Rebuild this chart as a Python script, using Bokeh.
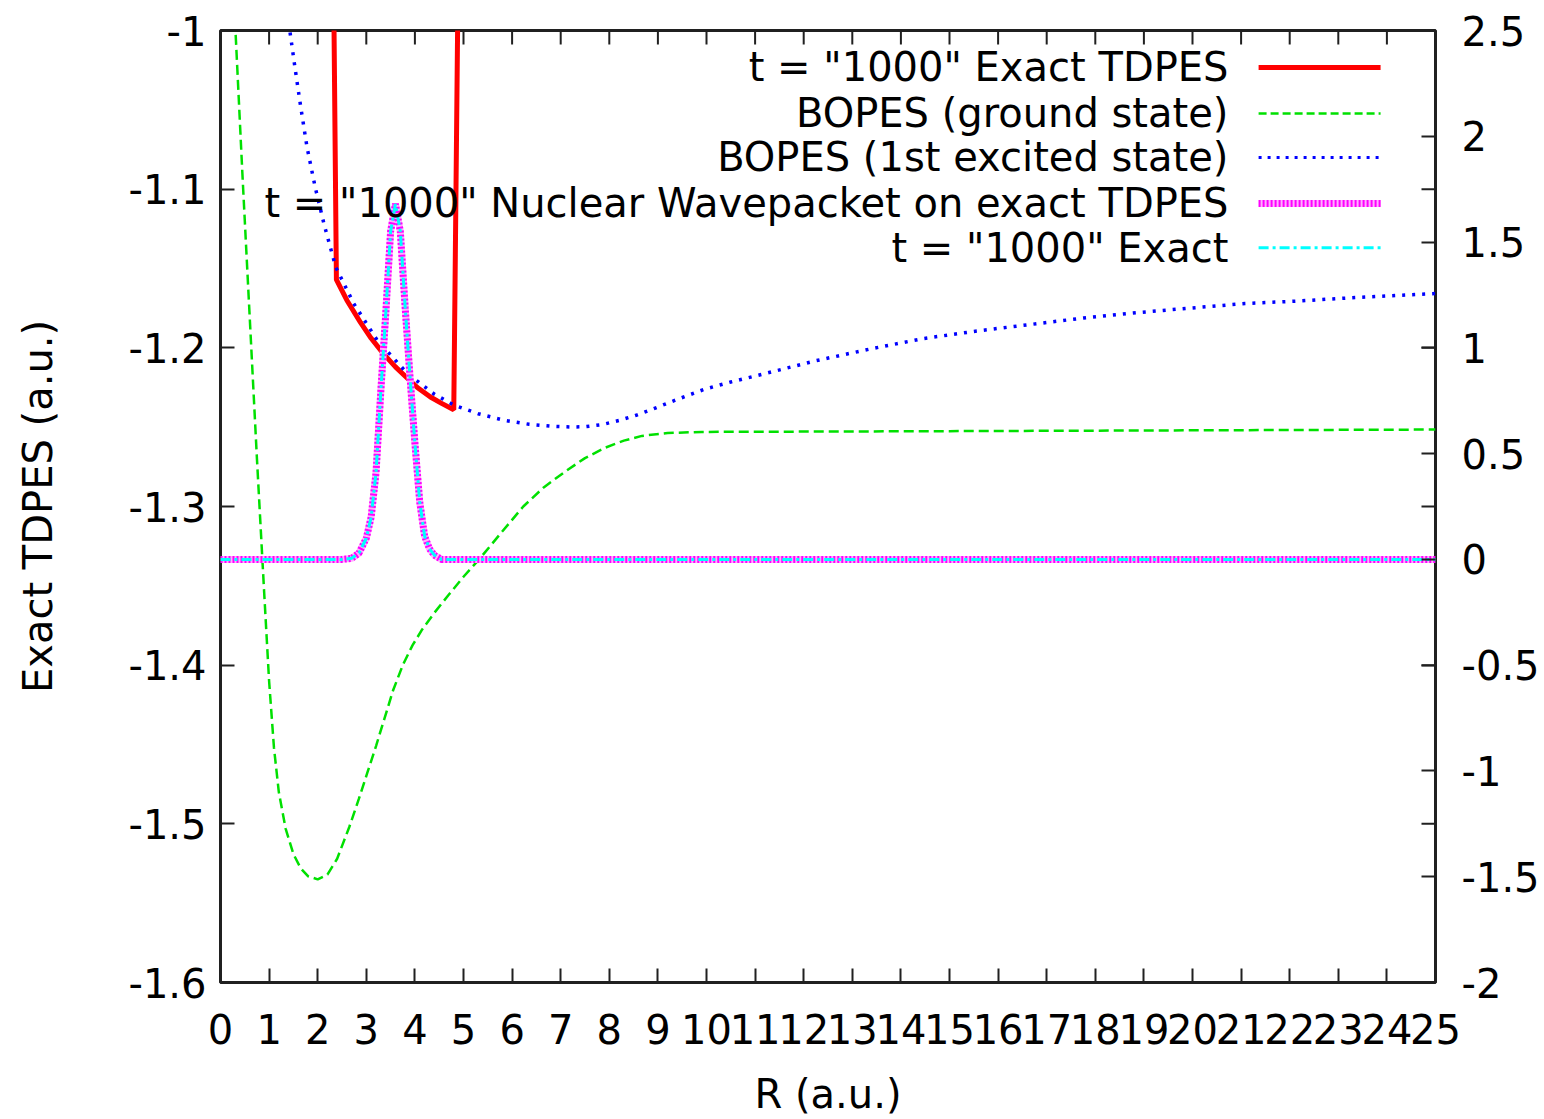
from bokeh.plotting import figure
from bokeh.models import Range1d, LinearAxis, FixedTicker, Label, PrintfTickFormatter, ColumnDataSource
from bokeh.embed import file_html
from bokeh.resources import INLINE

# ---------------- data ----------------
# BOPES ground state (left axis)
R_ground = [0.25, 0.30, 0.45, 0.60, 0.75, 0.90, 1.00, 1.10, 1.20, 1.34, 1.50, 1.65, 1.80, 2.00,
            2.20, 2.40, 2.65, 2.85, 3.03, 3.20, 3.37, 3.55, 3.75, 3.95, 4.15, 4.40, 4.70, 5.00,
            5.33, 5.75, 6.23, 6.65, 7.09, 7.50, 7.91, 8.30, 8.67, 9.20, 9.90, 15.0, 20.0, 25.0]
E_ground = [-0.965, -0.995, -1.090, -1.180, -1.270, -1.355, -1.410, -1.452, -1.480, -1.503,
            -1.519, -1.528, -1.533, -1.535, -1.532, -1.522, -1.502, -1.484, -1.467, -1.451,
            -1.434, -1.416, -1.400, -1.3875, -1.3775, -1.367, -1.3555, -1.3443, -1.333, -1.3175,
            -1.300, -1.288, -1.278, -1.2695, -1.263, -1.2585, -1.2555, -1.2537, -1.253, -1.2525,
            -1.252, -1.2515]

# BOPES 1st excited state (left axis)
R_excited = [1.30, 1.43, 1.54, 1.65, 1.78, 1.95, 2.13, 2.37, 2.74, 3.22, 3.84, 4.39, 4.80, 5.30,
             5.83, 6.35, 6.86, 7.20, 7.50, 7.85, 8.20, 8.55, 8.90, 9.40, 9.95, 10.50, 11.13, 12.24,
             13.34, 14.45, 15.56, 16.66, 17.76, 18.87, 19.98, 21.08, 22.18, 23.29, 25.0]
E_excited = [-0.970, -1.001, -1.025, -1.048, -1.0735, -1.099, -1.122, -1.149, -1.172, -1.195,
             -1.216, -1.229, -1.236, -1.2415, -1.2456, -1.2482, -1.2495, -1.2499, -1.2497,
             -1.2484, -1.2458, -1.2425, -1.2385, -1.2325, -1.2262, -1.2215, -1.2168, -1.2082,
             -1.2009, -1.1942, -1.1894, -1.1853, -1.1812, -1.1778, -1.1749, -1.1721, -1.1705,
             -1.1684, -1.1658]

# Exact TDPES at t = "1000" (left axis)
R_tdpes = [2.33, 2.385, 2.60, 2.88, 3.10, 3.36, 3.60, 3.84, 4.05, 4.32, 4.55, 4.80, 4.885]
E_tdpes = [-0.98, -1.157, -1.170, -1.184, -1.194, -1.204, -1.212, -1.219, -1.225, -1.231,
           -1.235, -1.239, -0.98]

# Nuclear wavepacket at t = "1000" (right axis)
R_wp = [0.0, 2.50, 2.70, 2.85, 3.00, 3.10, 3.20, 3.30, 3.40, 3.50, 3.60, 3.70, 3.80, 3.90,
        4.00, 4.10, 4.20, 4.30, 4.40, 4.55, 25.0]
psi_wp = [0.0, 0.0, 0.005, 0.03, 0.10, 0.20, 0.41, 0.80, 1.16, 1.55, 1.68, 1.55, 1.19, 0.86,
          0.55, 0.27, 0.11, 0.05, 0.02, 0.0, 0.0]

x_ticks = list(range(0, 26))
y_ticks = [-1.6, -1.5, -1.4, -1.3, -1.2, -1.1, -1.0]
y2_ticks = [-2.0, -1.5, -1.0, -0.5, 0.0, 0.5, 1.0, 1.5, 2.0, 2.5]

x_title = "R (a.u.)"
y_title = "Exact TDPES (a.u.)"
legend_labels = ['t = "1000" Exact TDPES', 'BOPES (ground state)', 'BOPES (1st excited state)',
                 't = "1000" Nuclear Wavepacket on exact TDPES', 't = "1000" Exact']

# ---------------- figure ----------------
FONT = "DejaVu Sans"
FS = "40px"
X0, X1, Y0, Y1 = 0.0, 25.0, -1.6, -1.0
FRAME_W, FRAME_H = 1215.0, 953.0

p = figure(width=1544, height=1119, x_range=Range1d(X0, X1), y_range=Range1d(Y0, Y1),
           output_backend="svg", toolbar_location=None,
           min_border_left=220, min_border_right=109, min_border_top=30, min_border_bottom=136)
p.extra_y_ranges = {"y2": Range1d(-2.0, 2.5)}
p.xgrid.visible = False
p.ygrid.visible = False
p.outline_line_color = "#202020"
p.outline_line_width = 3
p.background_fill_color = "white"
p.border_fill_color = "white"

bottom = p.below[0]
left = p.left[0]
right = LinearAxis(y_range_name="y2")
p.add_layout(right, "right")

TICK_PX = 14
for ax in [bottom, left, right]:
    ax.axis_line_color = None
    ax.major_tick_in = TICK_PX
    ax.major_tick_out = 0
    ax.minor_tick_line_color = None
    ax.major_tick_line_color = "#202020"
    ax.major_tick_line_width = 2
    ax.major_label_text_font = FONT
    ax.major_label_text_font_size = FS
    ax.major_label_text_color = "black"
    ax.axis_label_text_font = FONT
    ax.axis_label_text_font_size = FS
    ax.axis_label_text_font_style = "normal"
    ax.axis_label_text_color = "black"

bottom.ticker = FixedTicker(ticks=x_ticks)
bottom.major_label_standoff = 31
bottom.axis_label = x_title
bottom.axis_label_standoff = 24

left.ticker = FixedTicker(ticks=y_ticks)
left.formatter = PrintfTickFormatter(format="%g")
left.major_label_standoff = 14
left.axis_label = y_title
left.axis_label_standoff = 64

right.ticker = FixedTicker(ticks=y2_ticks)
right.formatter = PrintfTickFormatter(format="%g")
right.major_label_standoff = 26

# mirrored ticks (top edge for x, right edge for the left-axis ticks), gnuplot style
px_y = (Y1 - Y0) / FRAME_H
dx_tick = (X1 - X0) / FRAME_W * TICK_PX
dy_tick = px_y * TICK_PX
p.segment(x0=x_ticks, y0=[Y1] * len(x_ticks), x1=x_ticks, y1=[Y1 - dy_tick] * len(x_ticks),
          line_color="#202020", line_width=2)
inner_y = y_ticks[1:-1]
p.segment(x0=[X1 - dx_tick] * len(inner_y), y0=inner_y, x1=[X1] * len(inner_y), y1=inner_y,
          line_color="#202020", line_width=2)

# ---------------- curves ----------------
src_wp = ColumnDataSource(dict(R=R_wp, psi=psi_wp))

p.line(R_tdpes, E_tdpes, line_color="#ff0000", line_width=5)
p.line(R_ground, E_ground, line_color="#00e000", line_width=2.5, line_dash="10 5")
p.line(R_excited, E_excited, line_color="#0000ff", line_width=3.5, line_dash="3 7")
p.line("R", "psi", source=src_wp, y_range_name="y2", line_color="#ffb0ff", line_width=7)
p.line("R", "psi", source=src_wp, y_range_name="y2", line_color="#ff00ff", line_width=7, line_dash="2 2")
p.line("R", "psi", source=src_wp, y_range_name="y2", line_color="#00ffff", line_width=3,
       line_dash="10 4 3 4")

# ---------------- gnuplot-style key (text left, sample right) ----------------
KEY_TEXT_X = 20.74
KEY_X0, KEY_X1 = 21.36, 23.87
KEY_ROWS = [-1.0233, -1.0523, -1.0800, -1.1090, -1.1370]
key_styles = [
    [dict(line_color="#ff0000", line_width=5)],
    [dict(line_color="#00e000", line_width=2.5, line_dash="8 4")],
    [dict(line_color="#0000ff", line_width=3, line_dash="3 6")],
    [dict(line_color="#ffb0ff", line_width=7), dict(line_color="#ff00ff", line_width=7, line_dash="2 2")],
    [dict(line_color="#00ffff", line_width=3, line_dash="10 4 3 4")],
]
for lab, yrow, styles in zip(legend_labels, KEY_ROWS, key_styles):
    p.add_layout(Label(x=KEY_TEXT_X, y=yrow, text=lab, text_align="right", text_baseline="middle",
                       text_font=FONT, text_font_size=FS, text_color="black"))
    for st in styles:
        p.line([KEY_X0, KEY_X1], [yrow, yrow], **st)

open("out.html", "w").write(file_html(p, INLINE))
